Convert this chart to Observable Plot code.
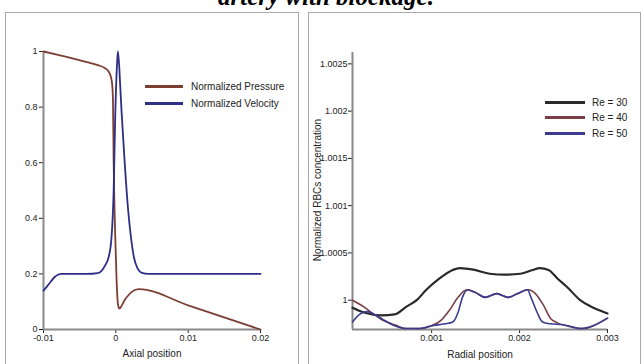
<!DOCTYPE html>
<html><head><meta charset="utf-8">
<script src="https://cdn.jsdelivr.net/npm/d3@7"></script>
<script src="https://cdn.jsdelivr.net/npm/@observablehq/plot@0.6"></script>
<style>
body{margin:0;width:642px;height:364px;overflow:hidden;background:#fff;position:relative;font-family:"Liberation Sans",Arial,sans-serif}
.panel{position:absolute;border:1.5px solid #a8a8a8;box-sizing:border-box}
.chart{position:absolute}
.row{position:absolute;display:flex;align-items:center;font-size:10px;color:#222;white-space:nowrap;height:14px}
.row span.sw{display:inline-block;height:2.5px}
.lab{position:absolute;font-size:10px;color:#222;white-space:nowrap;transform:translate(-50%,-50%)}
</style></head><body>
<script>
// ---------- Left chart data ----------
const axialTicks = [-0.01, 0, 0.01, 0.02];
const axialTickLabels = ["-0.01", "0", "0.01", "0.02"];
const leftYTicks = [0, 0.2, 0.4, 0.6, 0.8, 1];
const leftYTickLabels = ["0", "0.2", "0.4", "0.6", "0.8", "1"];

const pressureX = [-0.01, -0.008, -0.006, -0.004, -0.0025, -0.0015, -0.001, -0.0007, -0.0005, -0.0004, -0.0003, -0.0001, 0.0001, 0.0003, 0.0005, 0.0008, 0.0012, 0.0018, 0.0025, 0.0032, 0.01, 0.02];
const pressureY = [1.0, 0.988, 0.975, 0.962, 0.951, 0.94, 0.928, 0.91, 0.88, 0.83, 0.6, 0.35, 0.18, 0.09, 0.075, 0.085, 0.105, 0.125, 0.14, 0.145, 0.087, 0.0];

const velocityX = [-0.01, -0.0095, -0.009, -0.0085, -0.008, -0.0075, -0.004, -0.0025, -0.002, -0.0015, -0.001, -0.0006, -0.0003, -0.0001, 0.0002, 0.0003, 0.0006, 0.0008, 0.0012, 0.0017, 0.0021, 0.0025, 0.003, 0.0036, 0.0045, 0.02];
const velocityY = [0.14, 0.155, 0.172, 0.188, 0.197, 0.2, 0.2, 0.203, 0.21, 0.23, 0.26, 0.33, 0.5, 0.75, 0.97, 1.0, 0.88, 0.78, 0.61, 0.43, 0.33, 0.26, 0.22, 0.204, 0.2, 0.2];

const leftSeries = ["Normalized Pressure", "Normalized Velocity"];
const leftColors = ["#7b3f33", "#2e2e86"];
const leftXLabel = "Axial position";

// ---------- Right chart data ----------
const radialTicks = [0.001, 0.002, 0.003];
const radialTickLabels = ["0.001", "0.002", "0.003"];
const rbcTicks = [1, 1.0005, 1.001, 1.0015, 1.002, 1.0025];
const rbcTickLabels = ["1", "1.0005", "1.001", "1.0015", "1.002", "1.0025"];

const re30X = [0.0001, 0.00023, 0.00043, 0.00058, 0.00071, 0.00083, 0.00094, 0.00109, 0.00124, 0.00132, 0.00149, 0.00166, 0.00183, 0.00201, 0.00215, 0.00223, 0.00233, 0.00243, 0.00254, 0.00269, 0.00284, 0.003];
const re30Y = [0.99992, 0.99987, 0.99984, 0.99985, 0.99993, 1.0, 1.00011, 1.00023, 1.00032, 1.00034, 1.00032, 1.00028, 1.00027, 1.00028, 1.00032, 1.00034, 1.00032, 1.00023, 1.00014, 1.0, 0.99992, 0.99986];

const re40X = [0.0001, 0.00023, 0.00033, 0.00044, 0.00058, 0.00071, 0.00086, 0.001, 0.00111, 0.0012, 0.0013, 0.0014, 0.0015, 0.00161, 0.00174, 0.00187, 0.00198, 0.0021, 0.00218, 0.00227, 0.00235, 0.00243, 0.00258, 0.00273, 0.00286, 0.003];
const re40Y = [1.0, 0.99993, 0.99986, 0.99979, 0.99974, 0.9997, 0.9997, 0.99973, 0.99979, 0.99989, 1.00003, 1.00011, 1.00008, 1.00003, 1.00007, 1.00003, 1.00007, 1.00011, 1.00007, 0.99995, 0.99981, 0.99976, 0.99972, 0.9997, 0.99974, 0.99981];

const re50X = [0.0001, 0.00018, 0.00026, 0.00035, 0.00044, 0.00058, 0.00071, 0.00086, 0.001, 0.00115, 0.00124, 0.0013, 0.00135, 0.00141, 0.0015, 0.00161, 0.00174, 0.00187, 0.00198, 0.00209, 0.00213, 0.0022, 0.00226, 0.00235, 0.0025, 0.00269, 0.00284, 0.003];
const re50Y = [0.99977, 0.99985, 0.99988, 0.99985, 0.9998, 0.99973, 0.9997, 0.9997, 0.99973, 0.99975, 0.99977, 0.99987, 1.00003, 1.00011, 1.00008, 1.00003, 1.00007, 1.00003, 1.00007, 1.00011, 1.00003, 0.99987, 0.99977, 0.99975, 0.99974, 0.9997, 0.99973, 0.99981];

const reSeries = ["Re = 30", "Re = 40", "Re = 50"];
const reColors = ["#2a2a2a", "#7a4048", "#3b3b8f"];
const rightXLabel = "Radial position";
const rightYLabel = "Normalized RBCs concentration";

// ---------- Layout ----------
const el = (tag, cls, css) => { const e = document.createElement(tag); if (cls) e.className = cls; Object.assign(e.style, css || {}); document.body.appendChild(e); return e; };

// title fragment (cut off at the top, as in the source page)
const tsvg = d3.select(document.body).append("svg")
  .attr("width", 642).attr("height", 14)
  .style("position", "absolute").style("left", "0px").style("top", "0px");
tsvg.append("text").attr("x", 326).attr("y", 4.5).attr("text-anchor", "middle")
  .style("font-family", "'Liberation Serif','Times New Roman',serif")
  .style("font-weight", "bold").style("font-style", "italic").style("font-size", "25px")
  .text("artery with blockage.");

el("div", "panel", {left: "5px", top: "12px", width: "294px", height: "370px"});
el("div", "panel", {left: "308px", top: "12px", width: "333px", height: "370px"});

const pts = (xs, ys, name) => xs.map((x, i) => ({x, y: ys[i], series: name}));

// ---------- Left chart ----------
const leftData = [...pts(pressureX, pressureY, leftSeries[0]), ...pts(velocityX, velocityY, leftSeries[1])];
const leftPlot = Plot.plot({
  width: 290, height: 350,
  marginLeft: 37, marginRight: 36, marginTop: 38, marginBottom: 34,
  style: {fontFamily: "'Liberation Sans',Arial,sans-serif", fontSize: "9px", background: "transparent", color: "#222", overflow: "visible"},
  x: {domain: [-0.01, 0.02], ticks: axialTicks, tickFormat: d => axialTickLabels[axialTicks.indexOf(d)], tickSize: 4, tickPadding: 1, label: null},
  y: {domain: [0, 1], ticks: leftYTicks, tickFormat: d => leftYTickLabels[leftYTicks.indexOf(d)], tickSize: 4, tickPadding: 2, label: null},
  color: {domain: leftSeries, range: leftColors},
  marks: [
    Plot.ruleX([-0.01], {stroke: "#8a8a8a", strokeWidth: 2}),
    Plot.ruleY([0], {stroke: "#8a8a8a", strokeWidth: 2}),
    Plot.line(leftData, {x: "x", y: "y", z: "series", stroke: "series", strokeWidth: 1.8, curve: "monotone-x"})
  ]
});
const lc = el("div", "chart", {left: "6px", top: "13px"});
lc.appendChild(leftPlot);
el("div", "lab", {left: "152px", top: "353px"}).textContent = leftXLabel;

// left legend
leftSeries.forEach((s, i) => {
  const r = el("div", "row", {left: "145px", top: (86 + i * 17 - 7) + "px"});
  r.innerHTML = `<span class="sw" style="width:38px;height:3px;background:${leftColors[i]};margin-right:8px"></span><span>${s}</span>`;
});

// ---------- Right chart ----------
const rightData = [...pts(re30X, re30Y, reSeries[0]), ...pts(re40X, re40Y, reSeries[1]), ...pts(re50X, re50Y, reSeries[2])];
const rightPlot = Plot.plot({
  width: 327, height: 350,
  marginLeft: 43, marginRight: 29, marginTop: 39, marginBottom: 34,
  style: {fontFamily: "'Liberation Sans',Arial,sans-serif", fontSize: "9px", background: "transparent", color: "#222", overflow: "visible"},
  x: {domain: [0.0001, 0.003], ticks: radialTicks, tickFormat: d => radialTickLabels[radialTicks.indexOf(d)], tickSize: 4, tickPadding: 1, label: null},
  y: {domain: [0.99969, 1.00262], ticks: rbcTicks, tickFormat: d => rbcTickLabels[rbcTicks.indexOf(d)], tickSize: 4, tickPadding: 1, label: null},
  color: {domain: reSeries, range: reColors},
  marks: [
    Plot.ruleX([0.0001], {stroke: "#8a8a8a", strokeWidth: 2}),
    Plot.ruleY([0.99969], {stroke: "#8a8a8a", strokeWidth: 2}),
    Plot.line(rightData, {x: "x", y: "y", z: "series", stroke: "series", strokeWidth: d => d.series === reSeries[0] ? 2.2 : 1.6, curve: "monotone-x"})
  ]
});
const rc = el("div", "chart", {left: "309px", top: "13px"});
rc.appendChild(rightPlot);
el("div", "lab", {left: "480px", top: "354px"}).textContent = rightXLabel;
el("div", "lab", {left: "317px", top: "190px", transform: "translate(-50%,-50%) rotate(-90deg)", fontSize: "10px"}).textContent = rightYLabel;

// right legend
reSeries.forEach((s, i) => {
  const r = el("div", "row", {left: "545px", top: (102 + i * 15.5 - 7) + "px"});
  r.innerHTML = `<span class="sw" style="width:40px;height:3px;background:${reColors[i]};margin-right:7px"></span><span>${s}</span>`;
});
</script>
</body></html>
